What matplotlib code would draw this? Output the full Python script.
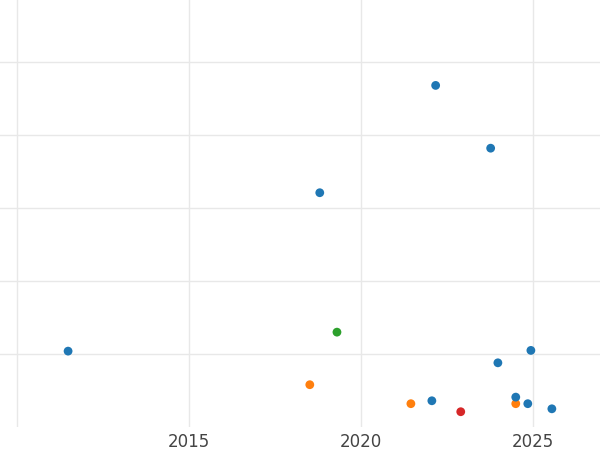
import matplotlib
matplotlib.use("Agg")
import matplotlib.pyplot as plt

years = [2011.48, 2018.80, 2022.17, 2023.77, 2019.30, 2018.51, 2021.45, 2024.50,
         2022.06, 2022.90, 2023.98, 2024.94, 2024.50, 2024.85, 2025.55]
values = [1.04, 3.21, 4.68, 3.82, 1.30, 0.58, 0.32, 0.32,
          0.36, 0.21, 0.88, 1.05, 0.41, 0.32, 0.25]
groups = ["a", "a", "a", "a", "c", "b", "b", "b", "a", "d", "a", "a", "a", "a", "a"]
palette = {"a": "#1f77b4", "b": "#ff7f0e", "c": "#2ca02c", "d": "#d62728"}

fig = plt.figure(figsize=(6, 4.5), dpi=100)
ax = fig.add_axes([0, 0.051, 1, 0.949])
ax.scatter(years, values, c=[palette[g] for g in groups], s=40, zorder=3, linewidths=0)
ax.set_xlim(2009.5, 2026.95)
ax.set_ylim(0, 5.85)
ax.set_xticks([2010, 2015, 2020, 2025])
ax.set_xticklabels(["", "2015", "2020", "2025"])
ax.set_yticks([1, 2, 3, 4, 5])
ax.set_yticklabels([])
ax.grid(True, color="#e8e8e8", linewidth=1)
ax.tick_params(length=0, labelsize=12, labelcolor="#444444", pad=4)
for s in ax.spines.values():
    s.set_visible(False)
fig.savefig("out.png", dpi=100)
